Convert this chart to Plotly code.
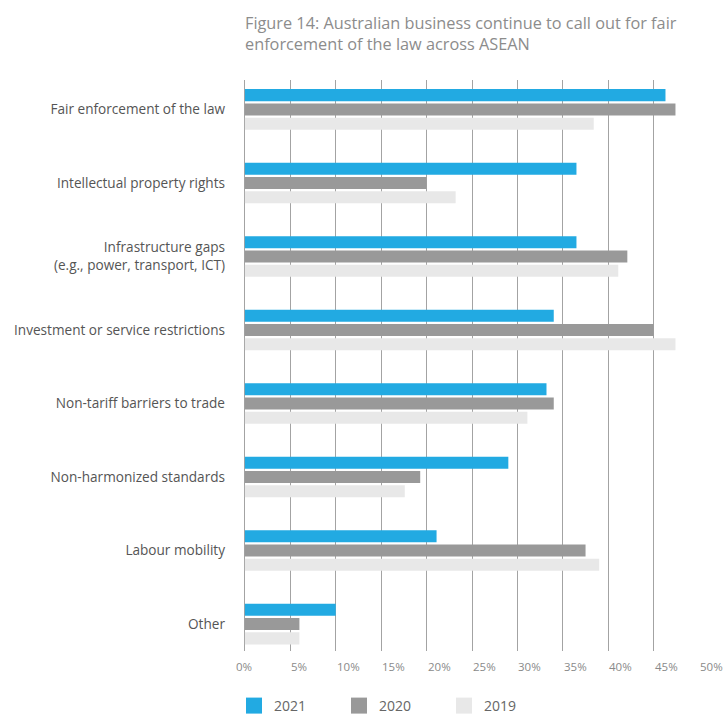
import plotly.graph_objects as go

# Survey categories, top to bottom
categories = [
    "Fair enforcement of the law",
    "Intellectual property rights",
    "Infrastructure gaps<br>(e.g., power, transport, ICT)",
    "Investment or service restrictions",
    "Non-tariff barriers to trade",
    "Non-harmonized standards",
    "Labour mobility",
    "Other",
]

# Share of respondents (%) per survey year
values_2021 = [46.3, 36.5, 36.5, 34.0, 33.2, 29.0, 21.1, 10.0]
values_2020 = [47.4, 20.0, 42.1, 45.0, 34.0, 19.3, 37.5, 6.0]
values_2019 = [38.4, 23.2, 41.1, 47.4, 31.1, 17.6, 39.0, 6.0]

series_names = ["2021", "2020", "2019"]
series_colors = ["#22aae2", "#999999", "#e8e8e8"]

tick_values = [0, 5, 10, 15, 20, 25, 30, 35, 40, 45, 50]
tick_labels = [f"{v}%" for v in tick_values]

FONT = "Open Sans"

fig = go.Figure()

for name, vals, color in zip(series_names, [values_2021, values_2020, values_2019], series_colors):
    fig.add_trace(go.Bar(
        y=categories, x=vals, orientation="h", name=name,
        marker=dict(color=color, line=dict(width=0)),
        showlegend=False, hoverinfo="x+y",
    ))

# Legend entries with larger square swatches
for name, color in zip(series_names, series_colors):
    fig.add_trace(go.Scatter(
        x=[None], y=[None], mode="markers", name=name,
        marker=dict(symbol="square", size=16, color=color, line=dict(width=0)),
        showlegend=True,
    ))

# Percentage labels along the bottom, left-aligned on each gridline
annotations = []
for v, lab in zip(tick_values, tick_labels):
    annotations.append(dict(
        x=v, y=0, xref="x", yref="paper", yshift=-15,
        text=lab, showarrow=False,
        xanchor="center" if v == 0 else "left", yanchor="middle",
        xshift=-1,
        font=dict(family=FONT, size=11.5, color="#8a8a8a"),
    ))

fig.update_layout(
    width=725, height=715,
    margin=dict(l=244, r=25, t=80, b=64),
    paper_bgcolor="white", plot_bgcolor="white",
    barmode="group", bargap=0.415, bargroupgap=0.16,
    title=dict(
        text="Figure 14: Australian business continue to call out for fair<br>enforcement of the law across ASEAN",
        x=245 / 725, xanchor="left", xref="container",
        y=1 - 29 / 715, yanchor="middle", yref="container",
        font=dict(family=FONT, size=16.3, color="#8c8c8c"),
    ),
    xaxis=dict(
        range=[-0.1, 50.1], tickvals=tick_values, showticklabels=False,
        showgrid=True, gridcolor="#a3a3a3", gridwidth=1,
        zeroline=True, zerolinecolor="#a3a3a3", zerolinewidth=1,
        showline=False, fixedrange=True,
    ),
    yaxis=dict(
        categoryorder="array", categoryarray=categories,
        range=[7.367, -0.401], showgrid=False, zeroline=False,
        ticks="", ticklabelstandoff=18,
        tickfont=dict(family=FONT, size=13.6, color="#555555"),
        fixedrange=True,
    ),
    legend=dict(
        orientation="h", x=-10 / 456, xanchor="left",
        y=1 - 706 / 715, yanchor="middle", yref="container",
        font=dict(family=FONT, size=14, color="#666666"),
        itemsizing="trace", entrywidth=60, entrywidthmode="pixels",
        bgcolor="rgba(0,0,0,0)",
    ),
    annotations=annotations,
    showlegend=True,
)

fig.write_html("out.html")
